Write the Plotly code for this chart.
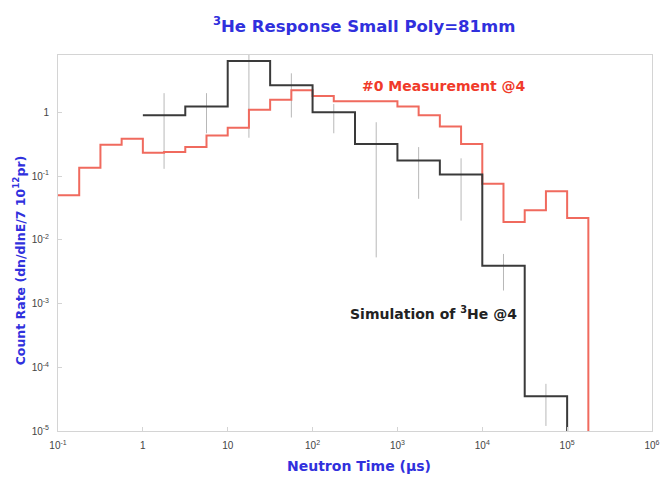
import plotly.graph_objects as go

# ---- data ----
# Measurement (#0 @4): quarter-decade bins
meas_edges = [0.1, 0.1778, 0.3162, 0.5623, 1.0, 1.778, 3.162, 5.623, 10.0, 17.78, 31.62,
              56.23, 100.0, 177.8, 316.2, 562.3, 1000.0, 1778.0, 3162.0, 5623.0, 1.0e4,
              1.778e4, 3.162e4, 5.623e4, 1.0e5, 1.778e5]
meas_values = [0.05, 0.135, 0.31, 0.385, 0.232, 0.238, 0.285, 0.435, 0.574, 1.1, 1.58,
               2.22, 1.8, 1.5, 1.5, 1.5, 1.24, 0.9, 0.6, 0.32, 0.076, 0.019, 0.029,
               0.058, 0.022]

# Simulation of 3He @4: half-decade bins
sim_edges = [1.0, 3.162, 10.0, 31.62, 100.0, 316.2, 1000.0, 3162.0, 1.0e4, 3.162e4, 1.0e5]
sim_values = [0.9, 1.24, 6.4, 2.66, 1.0, 0.32, 0.176, 0.106, 0.0039, 3.5e-5]

# Simulation error bars (bin centres, low, high)
err_x = [1.778, 5.623, 17.78, 56.23, 177.8, 562.3, 1778.0, 5623.0, 1.778e4, 5.623e4]
err_low = [0.13, 0.47, 0.40, 0.83, 0.47, 0.0053, 0.044, 0.02, 0.0016, 1.2e-5]
err_high = [2.0, 2.0, 12.0, 4.1, 1.35, 0.70, 0.285, 0.19, 0.006, 5.5e-5]

x_tickvals = [0.1, 1, 10, 100, 1000, 1e4, 1e5, 1e6]
x_ticktext = ["10<sup>-1</sup>", "1", "10", "10<sup>2</sup>", "10<sup>3</sup>",
              "10<sup>4</sup>", "10<sup>5</sup>", "10<sup>6</sup>"]
y_tickvals = [1e-5, 1e-4, 1e-3, 1e-2, 1e-1, 1]
y_ticktext = ["10<sup>-5</sup>", "10<sup>-4</sup>", "10<sup>-3</sup>", "10<sup>-2</sup>",
              "10<sup>-1</sup>", "1"]

y_floor = 1e-7  # histogram drops to below the axis floor

FONT = "DejaVu Sans, Liberation Sans, sans-serif"
TICKFONT = "Liberation Sans, Arial, sans-serif"
BLUE = "#3030dd"

fig = go.Figure()

# error bars (thin gray vertical lines)
ex, ey = [], []
for c, lo, hi in zip(err_x, err_low, err_high):
    ex += [c, c, None]
    ey += [lo, hi, None]
fig.add_trace(go.Scatter(x=ex, y=ey, mode="lines",
                         line=dict(color="#b8b8b8", width=1), showlegend=False,
                         hoverinfo="skip"))

# measurement histogram
fig.add_trace(go.Scatter(x=meas_edges, y=meas_values + [y_floor], mode="lines",
                         line=dict(color="#f06a5e", width=2, shape="hv"),
                         showlegend=False))

# simulation histogram
fig.add_trace(go.Scatter(x=sim_edges, y=sim_values + [y_floor], mode="lines",
                         line=dict(color="#3a3a3a", width=2, shape="hv"),
                         showlegend=False))

fig.update_layout(
    width=672, height=479,
    margin=dict(l=58, r=13, t=55, b=48),
    paper_bgcolor="white", plot_bgcolor="white",
    font=dict(family=FONT, color="#444"),
    title=dict(text="<b><sup>3</sup>He Response Small Poly=81mm</b>",
               x=0.542, xanchor="center", y=0.945, yanchor="middle",
               font=dict(family=FONT, size=16.5, color=BLUE)),
    showlegend=False,
    annotations=[
        dict(text="<b>#0 Measurement @4</b>", xref="paper", yref="paper",
             x=0.65, y=0.918, xanchor="center", yanchor="middle", showarrow=False,
             font=dict(family=FONT, size=14, color="#f03a2a")),
        dict(text="<b>Simulation of <sup>3</sup>He @4</b>", xref="paper", yref="paper",
             x=0.632, y=0.314, xanchor="center", yanchor="middle", showarrow=False,
             font=dict(family=FONT, size=14, color="#222")),
        dict(text="<b>Count Rate (dn/dlnE/7 10<sup>12</sup>pr)</b>", xref="paper",
             yref="paper", x=-0.065, y=0.455, xanchor="center", yanchor="middle",
             textangle=-90, showarrow=False,
             font=dict(family=FONT, size=12.5, color=BLUE)),
        dict(text="<b>Neutron Time (μs)</b>", xref="paper", yref="paper",
             x=0.507, y=-0.093, xanchor="center", yanchor="middle", showarrow=False,
             font=dict(family=FONT, size=14, color=BLUE)),
    ],
)

fig.update_xaxes(type="log", range=[-1, 6],
                 tickvals=x_tickvals, ticktext=x_ticktext,
                 tickfont=dict(family=TICKFONT, size=10, color="#444"),
                 ticklabelstandoff=5,
                 showgrid=False, zeroline=False,
                 showline=True, mirror=True, linecolor="#d4d4d4", linewidth=1,
                 ticks="inside", ticklen=4, tickcolor="#d4d4d4")
fig.update_yaxes(type="log", range=[-5, 0.9],
                 tickvals=y_tickvals, ticktext=y_ticktext,
                 tickfont=dict(family=TICKFONT, size=10, color="#444"),
                 ticklabelstandoff=6,
                 showgrid=False, zeroline=False,
                 showline=True, mirror=True, linecolor="#d4d4d4", linewidth=1,
                 ticks="inside", ticklen=4, tickcolor="#d4d4d4")

fig.write_html("out.html")
